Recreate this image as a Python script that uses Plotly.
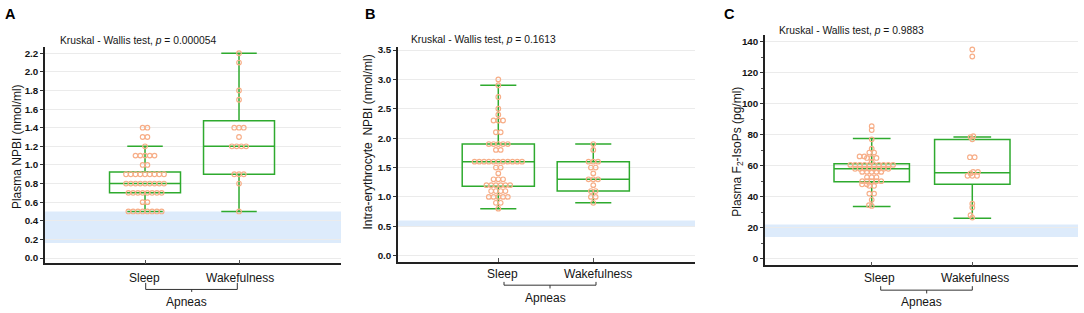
import plotly.graph_objects as go

# ---------------- data ----------------
categories = ["Sleep", "Wakefulness"]
group_label = "Apneas"
panel_letters = ["A", "B", "C"]
y_titles = ["Plasma NPBI (nmol/ml)",
            "Intra-erythrocyte  NPBI (nmol/ml)",
            "Plasma F<sub>2</sub>-IsoPs (pg/ml)"]
p_values = ["0.000054", "0.1613", "0.9883"]

# Panel A - Plasma NPBI (nmol/ml)
a_sleep = [1.4, 1.4, 1.3, 1.3, 1.2, 1.1, 1.1, 1.1, 1.1, 1.1, 1.0, 1.0,
           0.9, 0.9, 0.9, 0.9, 0.9, 0.9, 0.9, 0.9, 0.9,
           0.8, 0.8, 0.8, 0.8, 0.8, 0.8, 0.8, 0.8, 0.8,
           0.7, 0.7, 0.7, 0.7, 0.7, 0.7, 0.7, 0.7, 0.6, 0.6,
           0.5, 0.5, 0.5, 0.5, 0.5, 0.5, 0.5, 0.5]
a_wake = [2.2, 2.1, 1.8, 1.7, 1.4, 1.4, 1.4, 1.3, 1.2, 1.2, 1.2, 1.2,
          0.9, 0.9, 0.9, 0.8, 0.5]
a_lower = [0.5, 0.5]
a_q1 = [0.7, 0.9]
a_median = [0.8, 1.2]
a_q3 = [0.925, 1.475]
a_upper = [1.2, 2.2]
a_normal = [0.16, 0.5]

# Panel B - Intra-erythrocyte NPBI (nmol/ml)
b_sleep = [3.0, 2.9, 2.7, 2.5, 2.4, 2.3, 2.3, 2.3, 2.1, 2.1,
           1.9, 1.9, 1.9, 1.9, 1.9, 1.8, 1.8,
           1.6, 1.6, 1.6, 1.6, 1.6, 1.6, 1.6, 1.6, 1.6, 1.6, 1.6,
           1.5, 1.5, 1.4, 1.3, 1.3, 1.3, 1.2, 1.2, 1.2, 1.2, 1.2, 1.2,
           1.1, 1.1, 1.1, 1.1, 1.0, 1.0, 1.0, 1.0, 1.0, 0.9, 0.9, 0.8]
b_wake = [1.9, 1.8, 1.6, 1.6, 1.6, 1.5, 1.5, 1.4, 1.3, 1.3, 1.3, 1.2,
          1.1, 1.1, 1.0, 1.0, 0.9]
b_lower = [0.8, 0.9]
b_q1 = [1.18, 1.1]
b_median = [1.6, 1.3]
b_q3 = [1.9, 1.6]
b_upper = [2.9, 1.9]
b_normal = [0.5, 0.6]

# Panel C - Plasma F2-IsoPs (pg/ml)
c_sleep = [85.5, 83, 77, 71, 68.5, 68.5, 66, 66, 65, 65, 65, 62.5,
           60.5, 60.5, 60.5, 60.5, 60.5, 60.5, 60.5, 60.5, 60.5, 60.5,
           58, 58, 58, 58, 58, 58, 58, 58,
           56, 56, 56, 56, 56,
           52.5, 52.5, 52.5, 50, 50, 50, 50, 50, 48, 48, 47, 47,
           42, 42, 38, 34.5, 34]
c_wake = [135, 130.5, 79, 78.5, 77, 65.5, 65.5, 56, 56, 55, 53.5, 53.5,
          53.5, 35.5, 33, 28, 26.5]
c_lower = [33.7, 26.0]
c_q1 = [49.6, 48.1]
c_median = [58.1, 55.5]
c_q3 = [61.3, 76.9]
c_upper = [77.6, 78.6]
c_normal = [14, 22]

# ---------------- layout geometry (pixels) ----------------
W, H = 1084, 313
GREEN = "#2EAA2E"
DOT = "#F7AE88"
BAND = "#DDEBFB"
FONT = "Liberation Sans, Arial, sans-serif"
TXT = "#151515"

panels = [
    dict(sleep=a_sleep, wake=a_wake, lower=a_lower, q1=a_q1, med=a_median, q3=a_q3,
         upper=a_upper, normal=a_normal,
         px=(45, 341, 45, 263), xr=(-0.064, 3.085), yr=(-0.057, 2.27),
         dtick=0.2, fmt=".1f", minor=None, bw=0.755, overlap=0.97,
         ytitle_xy=(17, 146), title_xy=(58, 39), letter_xy=(10, 12),
         cat_lab=[(144.5, 277.7), (240, 277.7)], apn=(186.7, 302),
         br=dict(x0=145.7, x1=237.3, xm=191.7, yt=282.7, yh=289.3, ym=291.8)),
    dict(sleep=b_sleep, wake=b_wake, lower=b_lower, q1=b_q1, med=b_median, q3=b_q3,
         upper=b_upper, normal=b_normal,
         px=(398, 695, 45, 261.7), xr=(-0.056, 3.071), yr=(-0.108, 3.556),
         dtick=0.5, fmt=".1f", minor=None, bw=0.76, overlap=0.97,
         ytitle_xy=(368, 141.5), title_xy=(409.3, 37.3), letter_xy=(369.5, 12),
         cat_lab=[(502.3, 273.3), (598, 273.3)], apn=(545.3, 297.7),
         br=dict(x0=504, x1=596, xm=550, yt=281.7, yh=285, ym=288.3)),
    dict(sleep=c_sleep, wake=c_wake, lower=c_lower, q1=c_q1, med=c_median, q3=c_q3,
         upper=c_upper, normal=c_normal,
         px=(765, 1078, 33, 265), xr=(-0.061, 3.051), yr=(-4.3, 144.5),
         dtick=20, fmt="d", minor=10, bw=0.75, overlap=0.6,
         ytitle_xy=(737.7, 151), title_xy=(777.3, 28.3), letter_xy=(729.5, 12),
         cat_lab=[(879, 277.7), (974.5, 277.7)], apn=(921.7, 302.3),
         br=dict(x0=880.7, x1=972.3, xm=926.7, yt=286, yh=290, ym=293.3)),
]


def px2paper_x(x):
    return x / W


def px2paper_y(y):
    return 1 - y / H


def swarm(values, px_per_y, s, f):
    groups = {}
    for v in values:
        groups[v] = groups.get(v, 0) + 1
    placed = []
    ys, dxs = [], []
    for idx, v in enumerate(sorted(groups)):
        n = groups[v]
        y = v * px_per_y
        base = [(i - (n - 1) / 2) * s for i in range(n)]
        chosen = 0.0
        sign = 1 if idx % 2 == 0 else -1
        for k in range(4000):
            cands = [0.0] if k == 0 else [sign * k * 0.25, -sign * k * 0.25]
            hit = None
            for c in cands:
                if all((b + c - px) ** 2 + (y - py) ** 2 >= (f * s) ** 2
                       for b in base for (px, py) in placed):
                    hit = c
                    break
            if hit is not None:
                chosen = hit
                break
        for b in base:
            placed.append((b + chosen, y))
            ys.append(v)
            dxs.append(b + chosen)
    return ys, dxs


fig = go.Figure()
shapes = []
annotations = []
layout_axes = {}

for i, p in enumerate(panels):
    n = "" if i == 0 else str(i + 1)
    xa, ya = "x" + n, "y" + n
    l, r, t, b = p["px"]
    px_per_x = (r - l) / (p["xr"][1] - p["xr"][0])
    px_per_y = (b - t) / (p["yr"][1] - p["yr"][0])

    fig.add_trace(go.Box(
        x=[1, 2], q1=p["q1"], median=p["med"], q3=p["q3"],
        lowerfence=p["lower"], upperfence=p["upper"],
        width=p["bw"], whiskerwidth=0.5, boxpoints=False,
        line=dict(color=GREEN, width=1.5), fillcolor="rgba(0,0,0,0)",
        xaxis=xa, yaxis=ya, hoverinfo="skip"))

    for ci, vals in enumerate([p["sleep"], p["wake"]]):
        ys, dxs = swarm(vals, px_per_y, 4.75, p["overlap"])
        xs = [ci + 1 + d / px_per_x for d in dxs]
        fig.add_trace(go.Scatter(
            x=xs, y=ys, mode="markers", xaxis=xa, yaxis=ya,
            marker=dict(symbol="circle-open", size=4.6, color=DOT,
                        line=dict(width=1.2, color=DOT)),
            hoverinfo="skip"))

    yax = dict(domain=[px2paper_y(b), px2paper_y(t)], range=list(p["yr"]),
               anchor=xa, showline=True, linecolor="#222", linewidth=1.5,
               ticks="outside", ticklen=3, tickcolor="#333", tick0=0,
               dtick=p["dtick"], tickformat=p["fmt"],
               tickfont=dict(family=FONT, size=9.8, color=TXT, weight="bold"),
               showgrid=True, gridcolor="#EBEBEB", gridwidth=1, zeroline=False)
    if p["minor"]:
        yax["minor"] = dict(dtick=p["minor"], ticks="outside", ticklen=2,
                            tickcolor="#555", showgrid=False)
    xax = dict(domain=[px2paper_x(l), px2paper_x(r)], range=list(p["xr"]),
               anchor=ya, showline=True, linecolor="#222", linewidth=1.5,
               ticks="inside", ticklen=4, tickcolor="#555", tickvals=[1, 2],
               showticklabels=False, showgrid=False, zeroline=False)
    layout_axes["xaxis" + n] = xax
    layout_axes["yaxis" + n] = yax

    # normal-range band
    shapes.append(dict(type="rect", xref=xa + " domain", yref=ya,
                       x0=0, x1=1, y0=p["normal"][0], y1=p["normal"][1],
                       fillcolor=BAND, line=dict(width=0), layer="below"))

    # bracket under categories
    br = p["br"]
    path = "M {a},{yt} L {a},{yh} L {c},{yh} L {c},{yt} M {m},{yh} L {m},{ym}".format(
        a=px2paper_x(br["x0"]), c=px2paper_x(br["x1"]), m=px2paper_x(br["xm"]),
        yt=px2paper_y(br["yt"]), yh=px2paper_y(br["yh"]), ym=px2paper_y(br["ym"]))
    shapes.append(dict(type="path", xref="paper", yref="paper", path=path,
                       line=dict(color="#333", width=1)))

    # texts
    annotations.append(dict(text=panel_letters[i], xref="paper", yref="paper",
                            x=px2paper_x(p["letter_xy"][0]), y=px2paper_y(p["letter_xy"][1]),
                            xanchor="center", yanchor="middle", showarrow=False,
                            font=dict(family=FONT, size=14.5, color="#000", weight="bold")))
    annotations.append(dict(text="Kruskal - Wallis test, <i>p</i> = " + p_values[i],
                            xref="paper", yref="paper",
                            x=px2paper_x(p["title_xy"][0]), y=px2paper_y(p["title_xy"][1]),
                            xanchor="left", yanchor="middle", showarrow=False,
                            font=dict(family=FONT, size=10.3, color=TXT)))
    annotations.append(dict(text=y_titles[i], xref="paper", yref="paper",
                            x=px2paper_x(p["ytitle_xy"][0]), y=px2paper_y(p["ytitle_xy"][1]),
                            xanchor="center", yanchor="middle", textangle=-90,
                            showarrow=False, font=dict(family=FONT, size=12, color=TXT)))
    for ci, cat in enumerate(categories):
        cx, cy = p["cat_lab"][ci]
        annotations.append(dict(text=cat, xref="paper", yref="paper",
                                x=px2paper_x(cx), y=px2paper_y(cy),
                                xanchor="center", yanchor="middle", showarrow=False,
                                font=dict(family=FONT, size=12, color=TXT)))
    annotations.append(dict(text=group_label, xref="paper", yref="paper",
                            x=px2paper_x(p["apn"][0]), y=px2paper_y(p["apn"][1]),
                            xanchor="center", yanchor="middle", showarrow=False,
                            font=dict(family=FONT, size=12, color=TXT)))

fig.update_layout(width=W, height=H, margin=dict(l=0, r=0, t=0, b=0),
                  paper_bgcolor="white", plot_bgcolor="white", showlegend=False,
                  shapes=shapes, annotations=annotations,
                  font=dict(family=FONT), **layout_axes)

fig.write_html("out.html", config={"displayModeBar": False},
               post_script="document.body.style.margin='0';document.body.style.padding='0';")
